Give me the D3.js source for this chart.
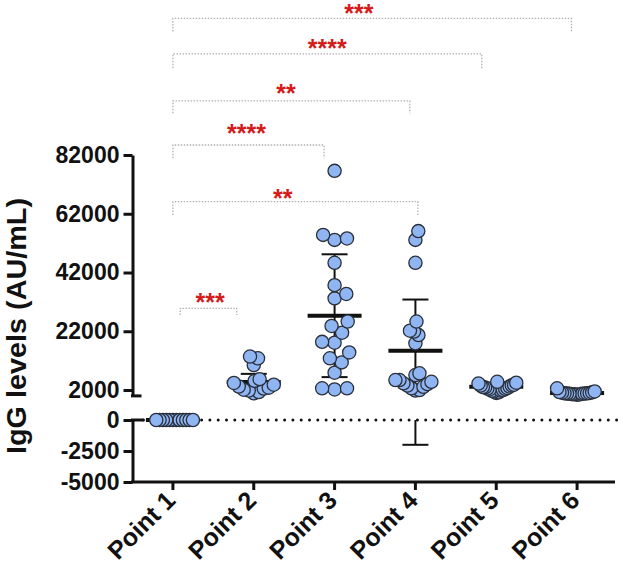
<!DOCTYPE html>
<html>
<head>
<meta charset="utf-8">
<script src="https://cdn.jsdelivr.net/npm/d3@7"></script>
<style>
    body { margin: 0; background: #fff; }
    svg { display: block; font-family: "Liberation Sans", Arial, sans-serif; }
</style>
</head>
<body>
<svg id="chart" width="623" height="567"></svg>
<script>
"use strict";

// groups on the x axis
const categories = ["Point 1", "Point 2", "Point 3", "Point 4", "Point 5", "Point 6"];

// IgG levels (AU/mL), one array per time point
const point1 = [0, 0, 0, 0, 0, 0, 0, 0, 0, 0, 0, 0];
const point2 = [12800, 10500, 13400, 5700, 5100, 4400, 3800, 3200, 2800, 2500, 2100, 1800, 1300, 900];
const point3 = [76600, 54800, 53100, 53600, 45300, 37700, 33200, 34700, 25300, 23800,
    21500, 18100, 18400, 14800, 12800, 11400, 7900, 2600, 2200, 2600];
const point4 = [56100, 53100, 45300, 25300, 22200, 21900, 20700, 17900, 7700, 7100,
    5400, 5400, 4800, 4300, 3100, 2000, 1800, 2600, 3500, 4000];
const point5 = [4800, 4500, 4200, 3800, 3600, 3500, 3200, 3000, 2900, 2700,
    2500, 2400, 2200, 2000, 1800, 1700, 1500, 1200, 1000];
const point6 = [2600, 1500, 1300, 1200, 1100, 1000, 900, 900, 800, 800, 700, 700, 600, 600, 500, 400];
const groups = [point1, point2, point3, point4, point5, point6];

// mean and SD drawn by the error bars
const means = [0, 4700, 27300, 15400, 3100, 1000];
const sds = [0, 2800, 20900, 17400, 1000, 500];

// broken y axis: upper and lower segments
const upperTicks = [2000, 22000, 42000, 62000, 82000];
const lowerTicks = [0, -2500, -5000];

// significance brackets (from/to/label x in category index, levels in AU/mL)
const bracketFrom = [0.0, 0.0, 0.0, 0.0, 0.0, 0.09];
const bracketTo = [4.93, 3.82, 2.93, 1.87, 3.03, 0.79];
const bracketTop = [128500, 116400, 100400, 85400, 66100, 29800];
const bracketBottom = [124000, 111500, 96200, 80900, 61600, 27500];
const starLabels = ["***", "****", "**", "****", "**", "***"];
const starX = [2.30, 1.91, 1.40, 0.91, 1.36, 0.46];
const starLevel = [132500, 120800, 105300, 91600, 69500, 34300];

const svg = d3.select("#chart");
const axisX = 132.5;

const x = d3.scaleBand().domain(categories).range([axisX, 617.5]).padding(0);
const xIdx = d3.scaleLinear().domain([0, 5])
    .range([x(categories[0]) + x.bandwidth() / 2, x(categories[5]) + x.bandwidth() / 2]);
const yUp = d3.scaleLinear().domain([0, 82000]).range([395.9, 155]);
const yLo = d3.scaleLinear().domain([-5000, 0]).range([482, 420]);
const yOf = v => (v <= 0 ? yLo(v) : yUp(v));

// simple beeswarm: nearest free spot to the centre, then squeeze to the column width
function swarm(vals, d, maxHalf) {
    const pts = vals.map(v => ({ v: v, y: yOf(v), x: 0 })).sort((a, b) => a.v - b.v);
    const placed = [];
    pts.forEach(p => {
        const cands = [0];
        placed.forEach(q => {
            const dy = Math.abs(p.y - q.y);
            if (dy < d) {
                const dx = Math.sqrt(d * d - dy * dy);
                cands.push(q.x + dx, q.x - dx);
            }
        });
        cands.sort((a, b) => Math.abs(a) - Math.abs(b));
        p.x = cands.find(c => placed.every(q => (c - q.x) ** 2 + (p.y - q.y) ** 2 >= d * d - 0.01));
        placed.push(p);
    });
    const m = d3.max(pts, p => Math.abs(p.x));
    if (m > maxHalf) pts.forEach(p => { p.x *= maxHalf / m; });
    return pts;
}

// zero reference line
svg.append("line")
    .attr("x1", axisX + 11).attr("x2", 623)
    .attr("y1", yLo(0)).attr("y2", yLo(0))
    .attr("stroke", "#111").attr("stroke-width", 3)
    .attr("stroke-linecap", "round").attr("stroke-dasharray", "0 8.3");

// brackets
const bracketG = svg.append("g");
bracketTop.forEach((top, i) => {
    const x1 = xIdx(bracketFrom[i]), x2 = xIdx(bracketTo[i]);
    bracketG.append("path")
        .attr("d", d3.line()([[x1, yUp(bracketBottom[i])], [x1, yUp(top)], [x2, yUp(top)], [x2, yUp(bracketBottom[i])]]))
        .attr("fill", "none").attr("stroke", "#b0b0b0").attr("stroke-width", 1.3)
        .attr("stroke-dasharray", "1.5 1.5");
    bracketG.append("text")
        .attr("x", xIdx(starX[i])).attr("y", yUp(starLevel[i]))
        .attr("dy", "0.62em")
        .attr("text-anchor", "middle")
        .style("font-size", "25px").style("font-weight", "bold")
        .style("fill", "#d41a1a")
        .text(starLabels[i]);
});

// error bars (mean +- SD), split at the axis break
const barG = svg.append("g").attr("stroke", "#111").attr("fill", "none");
categories.forEach((c, i) => {
    const cx = x(c) + x.bandwidth() / 2;
    const lo = means[i] - sds[i], hi = means[i] + sds[i];
    if (hi > 0) {
        barG.append("line").attr("x1", cx).attr("x2", cx)
            .attr("y1", yUp(Math.max(lo, 0))).attr("y2", yUp(hi)).attr("stroke-width", 2);
    }
    if (lo < 0) {
        barG.append("line").attr("x1", cx).attr("x2", cx)
            .attr("y1", yLo(lo)).attr("y2", yLo(Math.min(hi, 0))).attr("stroke-width", 2);
    }
    [lo, hi].forEach(v => {
        barG.append("line").attr("x1", cx - 13).attr("x2", cx + 13)
            .attr("y1", yOf(v)).attr("y2", yOf(v)).attr("stroke-width", 2);
    });
    barG.append("line").attr("x1", cx - 27).attr("x2", cx + 27)
        .attr("y1", yOf(means[i])).attr("y2", yOf(means[i])).attr("stroke-width", 4);
});

// dots
categories.forEach((c, i) => {
    const cx = x(c) + x.bandwidth() / 2;
    svg.append("g").selectAll("circle")
        .data(swarm(groups[i], 12.5, 20))
        .enter()
        .append("circle")
        .attr("cx", d => cx + d.x)
        .attr("cy", d => d.y)
        .attr("r", 6.6)
        .style("fill", "#8fb5f2")
        .style("stroke", "#2a2f3a")
        .style("stroke-width", 1.3);
});

// axes
const styleAxis = g => {
    g.selectAll(".domain").attr("stroke", "#111").attr("stroke-width", 3);
    g.selectAll(".tick line").attr("stroke", "#111").attr("stroke-width", 3);
    g.selectAll(".tick text").attr("fill", "#111")
        .style("font-size", "23px").style("font-weight", "bold")
        .style("font-family", "'Liberation Sans', Arial, sans-serif");
};

svg.append("g")
    .attr("transform", "translate(" + axisX + ",0)")
    .call(d3.axisLeft(yUp).tickValues(upperTicks).tickSize(9).tickSizeOuter(0).tickPadding(4).tickFormat(d => String(d)))
    .call(styleAxis);
svg.append("g")
    .attr("transform", "translate(" + axisX + ",0)")
    .call(d3.axisLeft(yLo).tickValues(lowerTicks).tickSize(9).tickSizeOuter(0).tickPadding(4).tickFormat(d => String(d)))
    .call(styleAxis);

// break caps on both segments
svg.append("line").attr("x1", axisX - 1.5).attr("x2", axisX + 9)
    .attr("y1", yUp(0)).attr("y2", yUp(0)).attr("stroke", "#111").attr("stroke-width", 3);
svg.append("line").attr("x1", axisX - 1.5).attr("x2", axisX + 11)
    .attr("y1", yLo(0)).attr("y2", yLo(0)).attr("stroke", "#111").attr("stroke-width", 3);

const xAxis = svg.append("g")
    .attr("transform", "translate(0," + yLo(-5000) + ")")
    .call(d3.axisBottom(x).tickSize(8).tickSizeOuter(0))
    .call(styleAxis);
xAxis.select(".domain").attr("d", "M" + (axisX - 1.5) + ",0H615");
xAxis.selectAll(".tick text")
    .style("font-size", "25px")
    .attr("text-anchor", "end")
    .attr("x", 0).attr("y", 0).attr("dy", 0)
    .attr("transform", "translate(4,20) rotate(-45)");

// y axis title
svg.append("text")
    .attr("transform", "translate(26," + 326 + ") rotate(-90)")
    .attr("text-anchor", "middle")
    .attr("textLength", 256).attr("lengthAdjust", "spacingAndGlyphs")
    .style("font-size", "28px").style("font-weight", "bold").style("fill", "#111")
    .text("IgG levels (AU/mL)");
</script>
</body>
</html>
